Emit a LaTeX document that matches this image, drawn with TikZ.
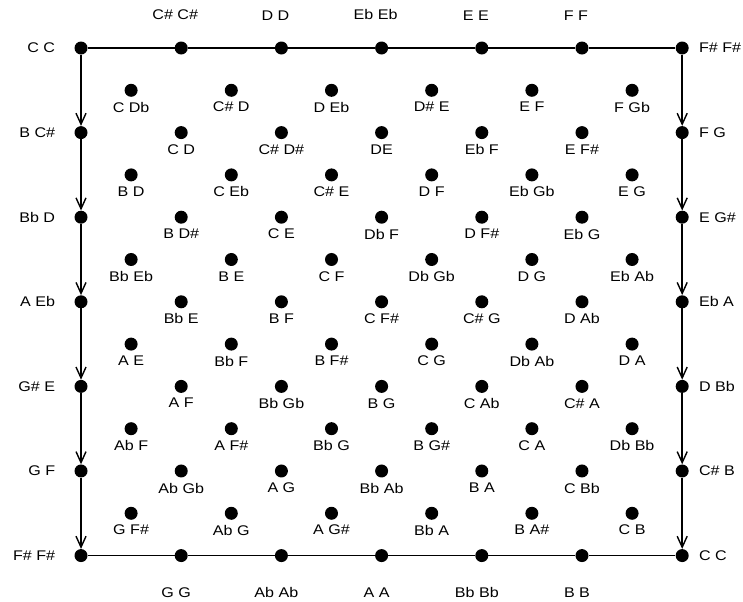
\documentclass[tikz,border=0pt]{standalone}
\usepackage{fontspec}
\setmainfont{Liberation Sans}[FakeStretch=1.15]
\usetikzlibrary{arrows.meta, positioning}
\definecolor{inkcolor}{HTML}{000000}

\begin{document}
\begin{tikzpicture}[x=50.1bp, y=-42.3bp, every node/.style={font=\fontsize{14bp}{16bp}\selectfont}]

\tikzset{
  dot/.style={circle, fill=inkcolor, inner sep=0pt, minimum size=13bp},
  rail/.style={line width=1.8bp, inkcolor},
  flowline/.style={rail, -{Straight Barb[length=11bp, width=10bp, line width=1.4bp]}},
  pitch/.style={inner sep=1bp, text=inkcolor},
}

\useasboundingbox (-1.617,-1.135) rectangle (13.214,13.097);

% ---- frame: top and bottom rows ----
\foreach \c in {0,2,...,12} {
  \node[dot] (p\c-0) at (\c,0) {};
  \node[dot] (p\c-12) at (\c,12) {};
}
% ---- frame: left and right columns ----
\foreach \r in {2,4,...,10} {
  \node[dot] (p0-\r) at (0,\r) {};
  \node[dot] (p12-\r) at (12,\r) {};
}

\foreach \c in {0,2,...,10} {
  \pgfmathtruncatemacro{\s}{\c+2}
  \draw[rail] (p\c-0) -- (p\s-0);
  \draw[rail] (p\c-12) -- (p\s-12);
}
\foreach \r in {0,2,...,10} {
  \pgfmathtruncatemacro{\s}{\r+2}
  \draw[flowline] (p0-\r) -- (p0-\s);
  \draw[flowline] (p12-\r) -- (p12-\s);
}

% ---- frame labels ----
\foreach \c/\txt in {2/C\# C\#, 4/D D, 6/Eb Eb, 8/E E, 10/F F}
  \node[pitch, above=20bp of p\c-0, xshift=-6bp] (top\c) {\txt};
\foreach \c/\txt in {2/G G, 4/Ab Ab, 6/A A, 8/Bb Bb, 10/B B}
  \node[pitch, below=24bp of p\c-12, xshift=-5bp] (bot\c) {\txt};
\foreach \r/\txt in {0/C C, 2/B C\#, 4/Bb D, 6/A Eb, 8/G\# E, 10/G F, 12/F\# F\#}
  \node[pitch, left=18bp of p0-\r] (lft\r) {\txt};
\foreach \r/\txt in {0/F\# F\#, 2/F G, 4/E G\#, 6/Eb A, 8/D Bb, 10/C\# B, 12/C C}
  \node[pitch, right=9bp of p12-\r] (rgt\r) {\txt};

% ---- inner lattice of intervals ----
\foreach \c/\r/\txt in {
  1/1/C Db, 3/1/C\# D, 5/1/D Eb, 7/1/D\# E, 9/1/E F, 11/1/F Gb,
  2/2/C D, 4/2/C\# D\#, 6/2/DE, 8/2/Eb F, 10/2/E F\#,
  1/3/B D, 3/3/C Eb, 5/3/C\# E, 7/3/D F, 9/3/Eb Gb, 11/3/E G,
  2/4/B D\#, 4/4/C E, 6/4/Db F, 8/4/D F\#, 10/4/Eb G,
  1/5/Bb Eb, 3/5/B E, 5/5/C F, 7/5/Db Gb, 9/5/D G, 11/5/Eb Ab,
  2/6/Bb E, 4/6/B F, 6/6/C F\#, 8/6/C\# G, 10/6/D Ab,
  1/7/A E, 3/7/Bb F, 5/7/B F\#, 7/7/C G, 9/7/Db Ab, 11/7/D A,
  2/8/A F, 4/8/Bb Gb, 6/8/B G, 8/8/C Ab, 10/8/C\# A,
  1/9/Ab F, 3/9/A F\#, 5/9/Bb G, 7/9/B G\#, 9/9/C A, 11/9/Db Bb,
  2/10/Ab Gb, 4/10/A G, 6/10/Bb Ab, 8/10/B A, 10/10/C Bb,
  1/11/G F\#, 3/11/Ab G, 5/11/A G\#, 7/11/Bb A, 9/11/B A\#, 11/11/C B} {
  \node[dot] (p\c-\r) at (\c,\r) {};
  \node[pitch, below=4bp of p\c-\r] (n\c-\r) {\txt};
}

\end{tikzpicture}
\end{document}
